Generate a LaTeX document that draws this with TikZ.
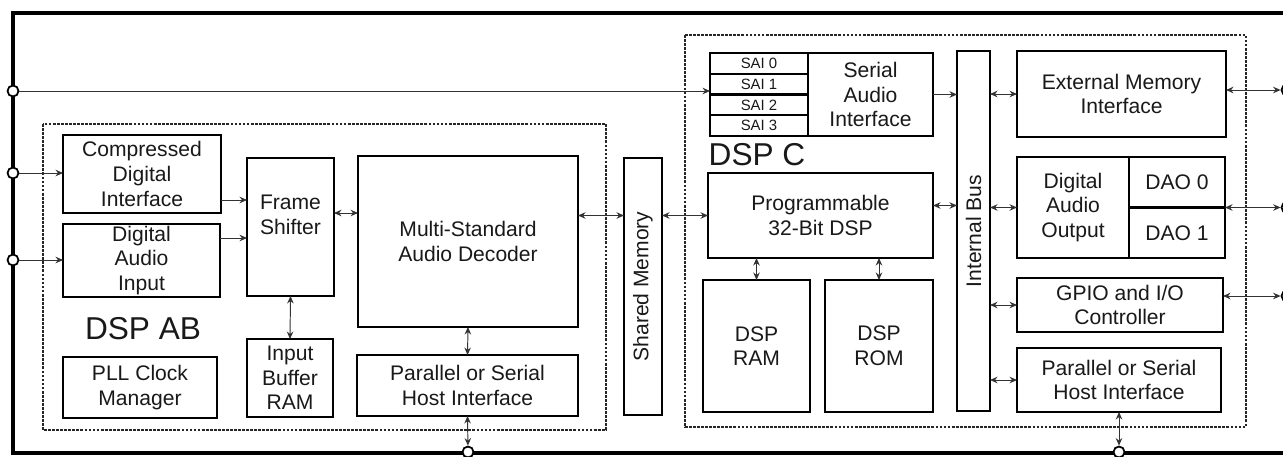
\documentclass[tikz,border=0pt]{standalone}
\usepackage{fontspec}
\setmainfont{Liberation Sans}
\usetikzlibrary{arrows.meta,positioning}

\begin{document}
\begin{tikzpicture}[
  x=0.02cm, y=-0.02cm,
  font=\fontsize{12}{14}\selectfont,
  >={Stealth[length=1.5mm,width=1.3mm]},
  box/.style={rectangle,draw=black,line width=1.4pt,fill=white,align=center,
    inner sep=1pt,outer sep=0pt,text=black!90},
  slot/.style={box,font=\fontsize{8.5}{9}\selectfont,minimum width=1.96cm,
    minimum height=0.415cm,line width=1.2pt},
  block/.style={draw=black!85,line width=1.6pt,dash pattern=on 1.6pt off 0.7pt},
  port/.style={circle,draw=black,line width=1pt,fill=white,minimum size=0.22cm,inner sep=0pt},
  chipframe/.style={line width=2.2pt,black},
  arr/.style={->,line width=0.55pt,black!80},
  biarr/.style={<->,line width=0.55pt,black!80},
  title/.style={font=\fontsize{18}{20}\selectfont,text=black!90,inner sep=0pt}
]

\fill[white] (0,0) rectangle (1283,456);
\useasboundingbox (0,0) rectangle (1283,456);
\clip (0,0) rectangle (1283,456);

% Chip outline, open to the right
\draw[chipframe] (1300,13) -- (13,13) -- (13,453) -- (1300,453);

% DSP AB
\draw[block] (43,124) rectangle (606,430);
\node[box,minimum width=3.16cm,minimum height=1.56cm] (cdi) at (142,174) {Compressed\\Digital\\Interface};
\node[box,minimum width=3.14cm,minimum height=1.46cm] (dai) at (141.5,260.5) {Digital\\Audio\\Input};
\node[box,minimum width=1.74cm,minimum height=2.76cm,
  label={[align=center,text=black!90,yshift=0.24cm]center:Frame\\Shifter}] (fshift) at (290.5,227) {};
\node[box,minimum width=4.4cm,minimum height=3.42cm] (dec) at (468,241.5) {Multi-Standard\\Audio Decoder};
\node[box,minimum width=1.72cm,minimum height=1.56cm] (ibuf) at (290,378) {Input\\Buffer\\RAM};
\node[box,minimum width=3.08cm,minimum height=1.22cm] (pll) at (140,387.5) {PLL Clock\\Manager};
\node[box,minimum width=4.42cm,minimum height=1.22cm] (hostab) at (467.5,385.5) {Parallel or Serial\\Host Interface};
\node[title] (abname) at (143,329) {DSP AB};

% Shared memory
\node[box,minimum width=0.76cm,minimum height=5.14cm] (shmem) at (643,286.5) {\rotatebox{90}{Shared Memory}};

% DSP C
\draw[block] (685,35) rectangle (1246,427);
\node[slot] (sai0) at (759,63.4) {SAI 0};
\node[slot] (sai1) [below=0pt of sai0] {SAI 1};
\node[slot] (sai2) [below=0pt of sai1] {SAI 2};
\node[slot] (sai3) [below=0pt of sai2] {SAI 3};
\node[box,minimum width=2.5cm,minimum height=1.66cm] (sai) at (870.5,94.5) {Serial\\Audio\\Interface};
\node[title] (cname) at (757,155) {DSP C};
\node[box,minimum width=4.5cm,minimum height=1.7cm] (prog) at (820.5,215.5) {Programmable\\32-Bit DSP};
\node[box,minimum width=2.14cm,minimum height=2.64cm] (dram) at (756.5,346) {DSP\\RAM};
\node[box,minimum width=2.16cm,minimum height=2.64cm] (drom) [right=0.3cm of dram] {DSP\\ROM};
\node[box,minimum width=0.66cm,minimum height=7.2cm] (ibus) at (973.5,231) {\rotatebox{90}{Internal Bus}};
\node[box,minimum width=4.18cm,minimum height=1.72cm] (emi) at (1121.5,94) {External Memory\\Interface};
\node[box,minimum width=2.24cm,minimum height=2.02cm] (dao) at (1073,207.5) {Digital\\Audio\\Output};
\node[box,minimum width=1.92cm,minimum height=1.01cm] (dao0) [below right=0pt and 0pt of dao.north east] {DAO 0};
\node[box,minimum width=1.92cm,minimum height=1.01cm] (dao1) [below=0pt of dao0] {DAO 1};
\node[box,minimum width=4.12cm,minimum height=1.08cm] (gpio) at (1120,305) {GPIO and I/O\\Controller};
\node[box,minimum width=4.08cm,minimum height=1.28cm] (hostc) at (1119,380) {Parallel or Serial\\Host Interface};

% Pins on the chip outline
\node[port] (pl1) at (13,91) {};
\node[port] (pl2) at (13,173) {};
\node[port] (pl3) at (13,260) {};
\node[port] (pb1) at (468,452) {};
\node[port] (pb2) at (1119,452) {};
\node[port] (pr1) at (1287,90) {};
\node[port] (pr2) at (1287,207.5) {};
\node[port] (pr3) at (1287,296) {};

% Arrows DSP AB
\coordinate (cdio) at ([yshift=-0.52cm]cdi.east);
\coordinate (daio) at ([yshift=0.45cm]dai.east);
\coordinate (fsho) at ([yshift=0.28cm]fshift.east);
\draw[arr] (pl2) -- (pl2 -| cdi.west);
\draw[arr] (pl3) -- (pl3 -| dai.west);
\draw[arr] (cdio) -- (cdio -| fshift.west);
\draw[arr] (daio) -- (daio -| fshift.west);
\draw[biarr] (fsho) -- (fsho -| dec.west);
\draw[biarr] (fshift.south) -- (ibuf.north);
\draw[biarr] (dec.south) -- (hostab.north);
\draw[biarr] (hostab.south) -- (pb1);

% Arrows through shared memory
\draw[biarr] (dec.east |- prog.west) -- (shmem.west |- prog.west);
\draw[biarr] (shmem.east |- prog.west) -- (prog.west);

% Arrows DSP C
\coordinate (progo) at ([yshift=0.2cm]prog.east);
\draw[arr] (pl1) -- (pl1 -| sai1.west);
\draw[biarr] (dram.north |- prog.south) -- (dram.north);
\draw[biarr] (drom.north |- prog.south) -- (drom.north);
\draw[arr] (sai.east) -- (sai.east -| ibus.west);
\draw[biarr] (progo) -- (progo -| ibus.west);
\draw[biarr] (ibus.east |- emi.west) -- (emi.west);
\draw[biarr] (ibus.east |- dao.west) -- (dao.west);
\draw[biarr] (ibus.east |- gpio.west) -- (gpio.west);
\draw[biarr] (ibus.east |- hostc.west) -- (hostc.west);
\draw[biarr] (hostc.south) -- (pb2);
\draw[biarr] (pr1 -| emi.east) -- (pr1);
\draw[biarr] (pr2 -| dao0.east) -- (pr2);
\draw[biarr] (pr3 -| gpio.east) -- (pr3);

\end{tikzpicture}
\end{document}
